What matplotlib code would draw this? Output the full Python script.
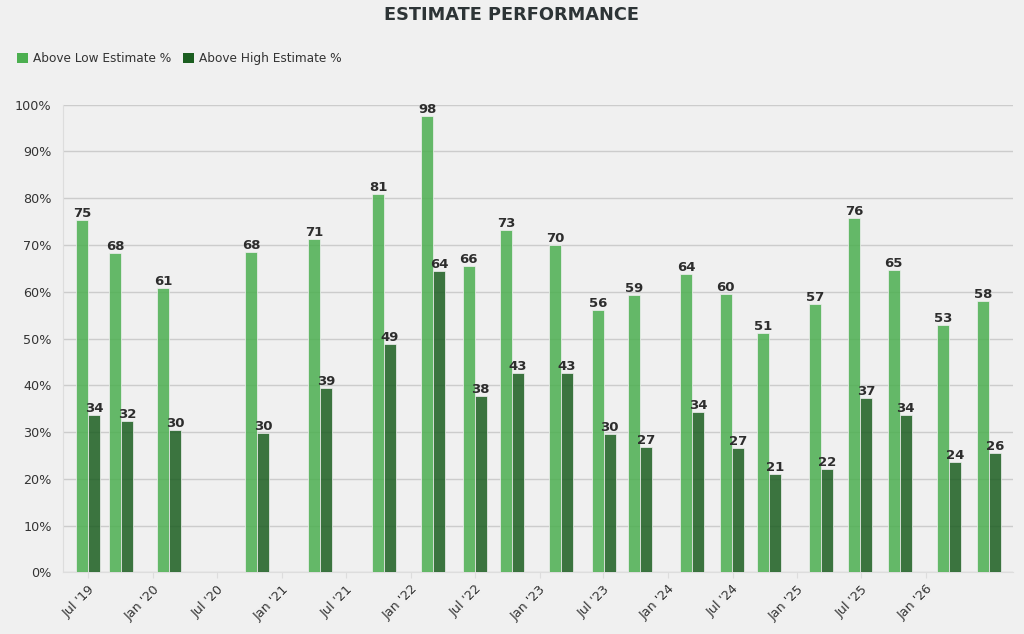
import matplotlib
matplotlib.use("Agg")
import matplotlib.pyplot as plt
import matplotlib.dates as mdates
import pandas as pd
from matplotlib.patches import Patch

dates = ["2019-07-01", "2019-10-03", "2020-02-15", "2020-10-22", "2021-04-18",
         "2021-10-17", "2022-03-05", "2022-07-01", "2022-10-15", "2023-03-03",
         "2023-07-02", "2023-10-14", "2024-03-09", "2024-06-29", "2024-10-13",
         "2025-03-08", "2025-06-28", "2025-10-18", "2026-03-07", "2026-06-28"]
above_low = [75.4, 68.2, 60.9, 68.4, 71.3, 80.8, 97.5, 65.6, 73.1, 69.9, 56.0, 59.2,
             63.8, 59.6, 51.1, 57.4, 75.7, 64.7, 52.9, 58.1]
above_high = [33.6, 32.3, 30.4, 29.8, 39.4, 48.9, 64.4, 37.8, 42.7, 42.6, 29.6, 26.9,
              34.3, 26.6, 21.1, 22.0, 37.3, 33.6, 23.5, 25.6]
tick_dates = ["2019-07-01", "2020-01-01", "2020-07-01", "2021-01-01", "2021-07-01",
              "2022-01-01", "2022-07-01", "2023-01-01", "2023-07-01", "2024-01-01",
              "2024-07-01", "2025-01-01", "2025-07-01", "2026-01-01"]
series_names = ["Above Low Estimate %", "Above High Estimate %"]
colors = ["#4CAF50", "#1B5E20"]

x = pd.to_datetime(dates)
w = pd.Timedelta(days=34)

fig = plt.figure(figsize=(10.24, 6.34), dpi=100, facecolor="#f0f0f0")
ax = fig.add_axes([62.7 / 1024, 1 - 572.3 / 634, (1013.3 - 62.7) / 1024, (572.3 - 104.7) / 634])
ax.set_facecolor("#f0f0f0")

b1 = ax.bar(x - w / 2, above_low, width=34, color=colors[0], alpha=0.85,
            edgecolor="#f0f0f0", linewidth=0.6, zorder=3)
b2 = ax.bar(x + w / 2, above_high, width=34, color=colors[1], alpha=0.85,
            edgecolor="#f0f0f0", linewidth=0.6, zorder=3)

for bars, vals in ((b1, above_low), (b2, above_high)):
    for rect, v in zip(bars, vals):
        ax.text(rect.get_x() + rect.get_width() / 2, rect.get_height(), f"{round(v + 1e-9):d}",
                ha="center", va="bottom", fontsize=9.5, fontweight="bold", color="#2d2d2d", zorder=4)

ax.set_ylim(0, 100)
ax.set_xlim(pd.Timestamp("2019-04-20"), pd.Timestamp("2026-09-05"))
ax.set_yticks(range(0, 101, 10))
ax.set_yticklabels([f"{v}%" for v in range(0, 101, 10)])
ax.set_xticks(pd.to_datetime(tick_dates))
ax.xaxis.set_major_formatter(mdates.DateFormatter("%b '%y"))
plt.setp(ax.get_xticklabels(), rotation=45, ha="right", rotation_mode="anchor")

ax.grid(axis="y", color="#cccccc", linewidth=1, zorder=0)
ax.grid(axis="x", visible=False)
for s in ("top", "right"):
    ax.spines[s].set_visible(False)
for s in ("left", "bottom"):
    ax.spines[s].set_color("#dddddd")
ax.tick_params(axis="y", length=0, labelsize=9.2, labelcolor="#333333", pad=8)
ax.tick_params(axis="x", length=4, color="#dddddd", labelsize=9.2, labelcolor="#333333")

fig.text(0.5, 0.976, "ESTIMATE PERFORMANCE", ha="center", va="center",
         fontsize=12.8, fontweight="bold", color="#2d3436")

handles = [Patch(facecolor=c, label=n) for c, n in zip(colors, series_names)]
fig.legend(handles=handles, loc="center left", bbox_to_anchor=(0.006, 0.908), ncol=2,
           frameon=False, fontsize=8.7, handlelength=0.9, handleheight=0.9,
           handletextpad=0.4, columnspacing=1.0, labelcolor="#333333")

fig.savefig("out.png", dpi=100, facecolor="#f0f0f0")
